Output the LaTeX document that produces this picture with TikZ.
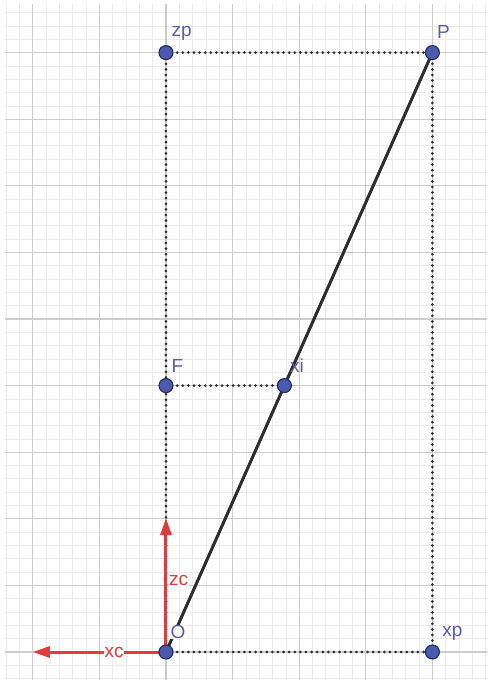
\documentclass[tikz,border=0pt]{standalone}
\usepackage{fontspec}
\setmainfont{Liberation Sans}
\usetikzlibrary{arrows.meta}
\definecolor{ptfill}{HTML}{4A5AB0}
\definecolor{ptline}{HTML}{252A55}
\definecolor{lblcol}{HTML}{5A5EA8}
\definecolor{redaxis}{HTML}{E23B3B}
\definecolor{majorg}{HTML}{CDCDCD}
\definecolor{minorg}{HTML}{EBEBEB}
\definecolor{segcol}{HTML}{2E2E2E}
\tikzset{
  minorgrid/.style={draw=minorg, line width=0.7pt},
  majorgrid/.style={draw=majorg, line width=1.1pt},
  pt/.style={circle, fill=ptfill, draw=ptline, line width=1.1pt, minimum size=14pt, inner sep=0pt},
  lbl/.style={text=lblcol, font=\fontsize{19}{19}\selectfont, inner sep=1pt},
  redlbl/.style={text=redaxis, font=\fontsize{19}{19}\selectfont, inner sep=0.5pt, fill=white},
  dotline/.style={draw=segcol, line width=3pt, dash pattern=on 0pt off 5.6pt, line cap=round},
  segline/.style={draw=segcol, line width=3pt},
  redarrow/.style={draw=redaxis, line width=3pt, -{Triangle[length=17pt,width=11pt]}}
}
\begin{document}
\begin{tikzpicture}[x=66.6pt,y=66.6pt]
\useasboundingbox (-2.4925,-0.4955) rectangle (4.895,9.79);
\begin{scope}
  \clip (-2.42,-0.42) rectangle (4.82,9.72);
  \foreach \i in {-13,...,25} {
    \pgfmathtruncatemacro{\r}{mod(\i+100,5)}
    \ifnum\r=0\else \draw[minorgrid] (\i/5,-0.6) -- (\i/5,10); \fi
  }
  \foreach \j in {-3,...,50} {
    \pgfmathtruncatemacro{\r}{mod(\j+100,5)}
    \ifnum\r=0\else \draw[minorgrid] (-2.6,\j/5) -- (5,\j/5); \fi
  }
  \foreach \i in {-2,...,4} \draw[majorgrid] (\i,-0.6) -- (\i,10);
  \foreach \j in {0,...,9} \draw[majorgrid] (-2.6,\j) -- (5,\j);
\end{scope}
% points
\coordinate (cO) at (0,0);
\coordinate (cxp) at (4,0);
\coordinate (cP) at (4,9);
\coordinate (czp) at (0,9);
\coordinate (cF) at (0,4);
\coordinate (cxi) at (1.7778,4);
\coordinate (czc) at (0,2.01);
\coordinate (cxc) at (-2,0);
% dotted lines
\draw[dotline] (czp) -- (cP);
\draw[dotline] (czp) -- (cO);
\draw[dotline] (cF) -- (cxi);
\draw[dotline] (cP) -- (cxp);
\draw[dotline] (cO) -- (cxp);
% segment
\draw[segline] (cO) -- (cP);
% red axes
\draw[redarrow] (cO) -- (czc);
\draw[redarrow] (cO) -- (cxc);
% labels
\node[lbl] (lzp) at (0.235,9.294) {zp};
\node[lbl] (lP) at (4.165,9.31) {P};
\node[lbl] (lF) at (0.17,4.294) {F};
\node[lbl] (lxi) at (1.967,4.294) {xi};
\node[lbl, fill=white, inner sep=0.3pt] (lO) at (0.18,0.30) {O};
\node[lbl] (lxp) at (4.30,0.285) {xp};
\node[redlbl] (lzc) at (0.19,1.08) {zc};
\node[redlbl] (lxc) at (-0.78,0) {xc};
% point markers
\node[pt] (O) at (cO) {};
\node[pt] (xp) at (cxp) {};
\node[pt] (P) at (cP) {};
\node[pt] (zp) at (czp) {};
\node[pt] (F) at (cF) {};
\node[pt] (xi) at (cxi) {};
\end{tikzpicture}
\end{document}
